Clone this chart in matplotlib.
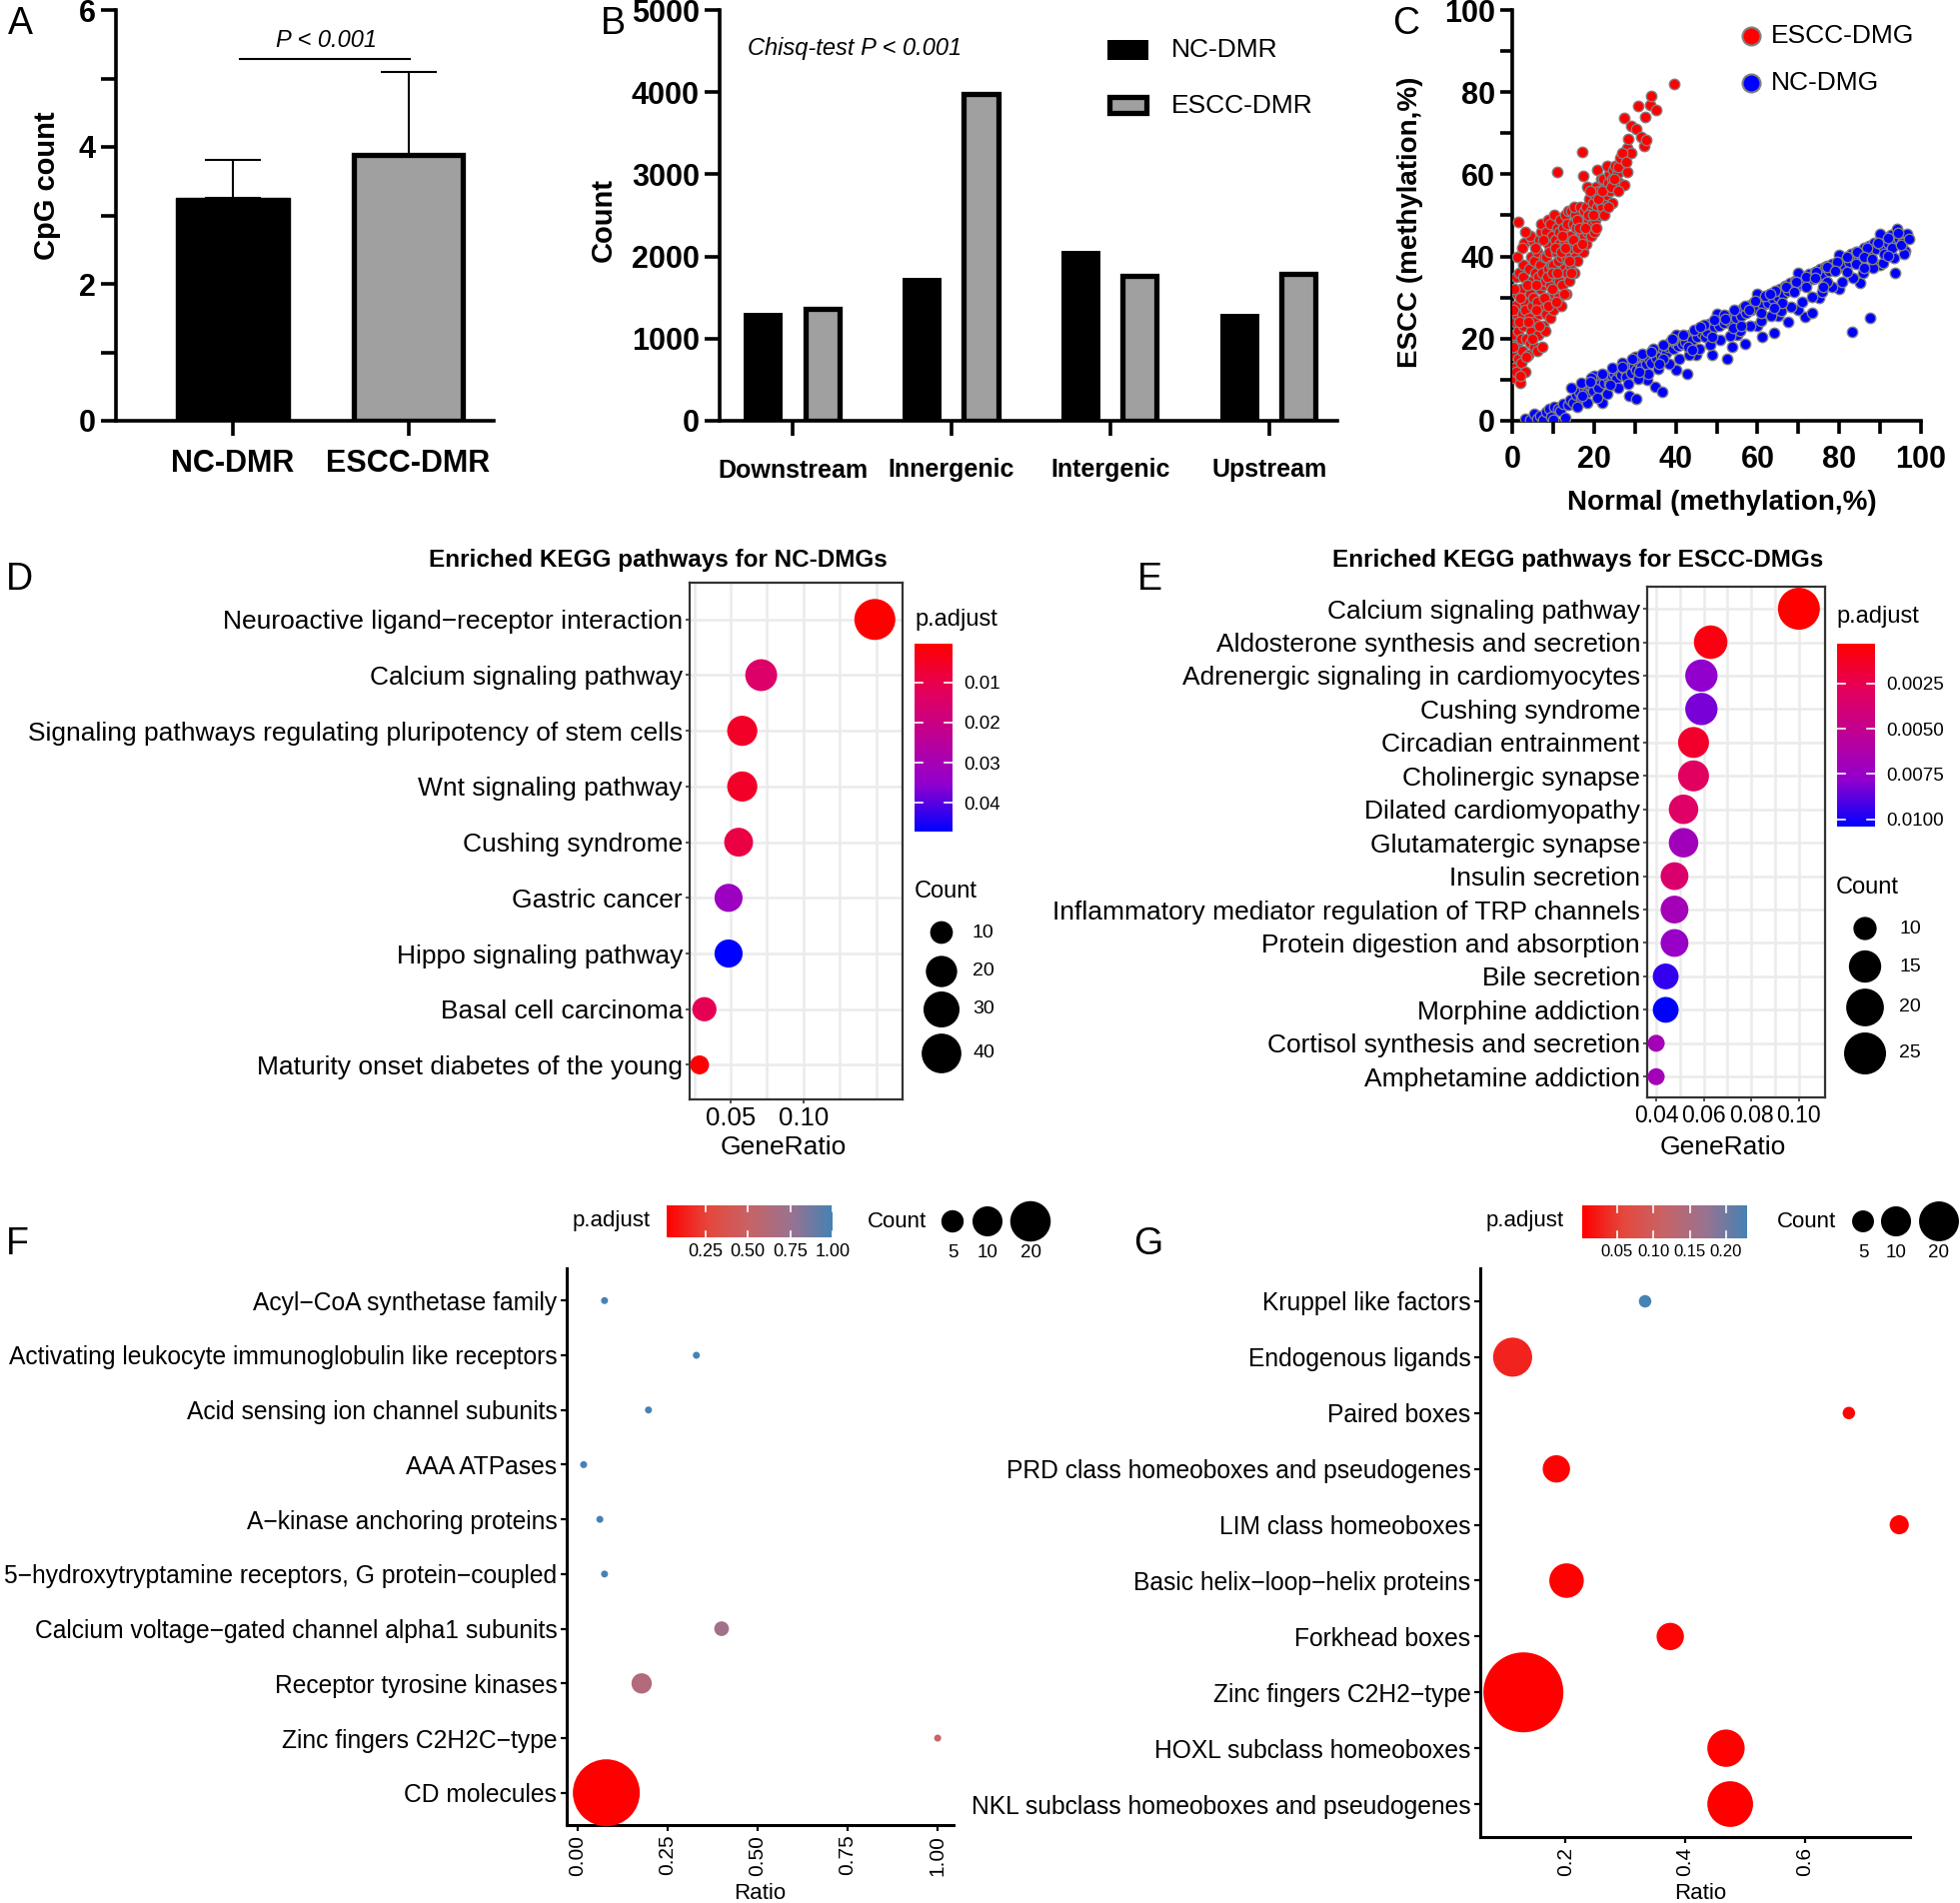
import numpy as np
import matplotlib
matplotlib.use("Agg")
import matplotlib.pyplot as plt
from matplotlib.colors import LinearSegmentedColormap
from matplotlib.patches import Rectangle

plt.rcParams['font.family'] = ['Liberation Sans', 'DejaVu Sans']

# ---- panel A: CpG count per DMR ----
cpg_groups = ['NC-DMR', 'ESCC-DMR']
cpg_mean = [3.25, 3.89]
cpg_sd = [0.56, 1.21]

# ---- panel B: genomic location of DMRs ----
locations = ['Downstream', 'Innergenic', 'Intergenic', 'Upstream']
nc_dmr = [1317, 1736, 2069, 1298]
escc_dmr = [1365, 3978, 1763, 1783]

# ---- panel C: methylation normal vs ESCC (normal %, escc %) ----
escc_dmg = np.array([
    (0.3,10.5),(0.5,13),(0.4,16),(0.6,19),(0.5,21),(0.8,24),(1.0,12),(1.2,18),(1.1,26),(0.7,28),(1.4,22),(1.3,31),(0.9,35),(1.5,15),(1.6,36),(1.5,48.5),
    (2.0,9.2),(2.2,14),(2.5,17),(2.1,20),(2.8,23),(2.4,26),(2.9,29),(2.3,32),(2.7,35),(3.0,43.4),(2.6,38),(3.2,12),(3.4,20),(3.1,27),
    (4.0,16),(4.3,19),(4.6,22),(4.1,25),(4.8,28),(4.4,31),(4.9,34),(4.2,37),(4.7,40),(5.0,44),(4.5,45),(5.3,18),(5.5,24),(5.2,30),(5.6,36),(5.4,39),
    (6.0,17),(6.3,21),(6.6,26),(6.1,29),(6.8,32),(6.4,35),(6.9,38),(6.2,41),(6.7,44),(7.0,46),(7.3,18),(7.5,23),(7.2,27),(7.6,33),(7.4,36),(7.8,40),(7.1,48),
    (8.0,22),(8.3,26),(8.6,30),(8.1,34),(8.8,37),(8.4,40),(8.9,43),(8.2,46),(8.7,49),(9.2,25),(9.5,29),(9.3,33),(9.6,38),(9.1,41),(9.8,45),(9.4,48),
    (10.0,27),(10.3,31),(10.6,35),(10.1,38),(10.8,41),(10.4,44),(10.9,47),(10.2,50),(11.3,30),(11.5,34),(11.2,39),(11.6,43),(11.4,46),(11.8,49),(11.0,60.6),
    (12.0,28),(12.3,33),(12.6,37),(12.1,40),(12.8,44),(12.4,47),(12.9,50),(13.3,31),(13.5,36),(13.2,40),(13.6,45),(13.4,48),(13.8,51),
    (14.0,34),(14.3,38),(14.6,42),(14.1,45),(14.8,48),(14.4,51),(15.2,36),(15.5,40),(15.3,44),(15.6,47),(15.4,50),(15.1,52),
    (16.0,39),(16.4,43),(16.8,46),(16.2,49),(16.6,52),(17.0,65.5),(17.3,41),(17.5,45),(17.2,48),(17.7,51),(17.4,59.5),(18.3,57),
    (18.0,43),(18.4,46),(18.7,49),(18.2,52),(18.9,54),(19.2,45),(19.5,48),(19.3,51),(19.7,53),
    (20.0,46),(20.4,49),(20.8,52),(20.2,55),(20.6,57),(20.9,61),(21.3,50),(21.6,53),(21.2,56),(21.8,59),
    (22.0,52),(22.4,54),(22.8,57),(22.2,59),(23.1,55),(23.4,58),(23.7,60),(23.2,62),
    (24.0,56),(24.4,59),(24.8,61),(24.5,53),(25.2,57),(25.6,60),(25.3,62),
    (26.0,61.9),(26.5,63.9),(26.2,58),(27.3,57.4),(27.5,73.8),(28.1,60.7),(28.2,66.4),(28.3,68.6),(29.2,65.2),(29.2,71.7),(26.8,65.3),(27.8,63),
    (30.4,71.1),(30.8,76.6),(31.5,69.2),(32.2,67),(32.4,73.9),(32.8,68.4),(33.8,76.9),(34.0,79),(35.2,75.6),(39.5,82),
    (1.8,24),(2.0,30),(3.6,33),(3.8,24),(3.5,15.5),(4.9,20),(5.8,27),(5.9,33),(5.7,42),(6.5,23),(7.9,30),(7.7,44),
    (8.5,35),(8.9,28),(9.9,32),(9.7,36),(10.7,29),(10.5,42),(11.1,36),(11.9,41),(12.2,45),(12.7,31),(13.0,42),
    (13.9,39),(14.5,36),(14.9,44),(15.8,42),(15.9,49),(16.5,47),(17.1,43),(17.9,47),(18.6,50),(19.0,56),(19.9,50),
    (20.5,47),(21.0,54),(21.9,56),(22.6,50),(23.5,52),(24.2,57),(25.0,59),(25.8,56),(2.5,42),(3.3,46),(1.2,40),
    (0.6,32),(0.3,27),(1.9,11),(0.2,18)])

nc_dmg = np.array([
    (3.3,0.4),(4.5,0.2),(5.3,1.6),(6.0,0.5),(6.8,1.2),(7.5,0.3),(8.2,2.2),(9.0,2.9),(9.6,1.0),(10.3,3.5),(10.0,0.2),
    (11.2,3.0),(11.8,2.5),(12.5,4.2),(13.0,0.8),(13.6,3.8),(14.3,5.1),(15.0,4.4),(15.6,6.3),(16.3,7.0),(16.9,5.6),(17.5,7.8),(18.2,6.9),(18.8,8.4),(19.2,8.6),(19.8,7.4),(20.4,9.2),
    (21.0,8.0),(21.5,9.9),(22.0,4.5),(22.6,9.3),(23.2,10.6),(23.8,9.0),(24.4,11.0),(24.9,11.5),(25.5,10.2),(26.1,12.0),(26.7,11.2),(27.3,12.6),(27.9,10.8),(28.5,6.1),(28.6,13.0),(29.2,11.7),(29.8,13.4),(30.2,5.3),(30.4,12.3),
    (31.0,14.0),(31.6,13.1),(32.2,15.5),(32.8,13.8),(33.4,15.0),(34.0,14.1),(34.6,16.2),(35.0,8.2),(35.2,15.4),(35.8,17.0),(36.4,15.8),(36.7,7.0),(37.0,17.6),(37.6,16.5),(38.2,18.1),(38.7,19.2),(39.3,17.4),(39.9,19.0),(40.5,18.2),
    (41.0,20.0),(41.6,18.8),(42.2,20.6),(42.4,19.2),(42.8,11.5),(43.4,21.0),(44.0,19.7),(44.6,21.8),(45.2,20.4),(45.8,22.2),(46.4,21.1),(47.0,23.0),(47.3,20.5),(47.6,21.7),(48.2,23.6),(48.9,16.0),(49.4,22.9),(50.0,24.3),(50.6,23.2),
    (51.2,25.0),(51.8,23.8),(52.4,25.6),(52.6,15.1),(53.0,24.4),(53.8,18.0),(54.2,26.0),(54.8,25.1),(55.4,26.8),(56.0,25.6),(56.6,27.4),(57.0,18.8),(57.2,26.2),(57.8,28.0),(58.4,26.9),(59.0,28.6),(59.6,27.5),(60.2,29.2),
    (61.1,20.5),(61.4,28.3),(62.0,30.0),(62.6,28.8),(63.2,31.0),(63.8,29.6),(64.0,21.3),(64.4,31.5),(65.0,30.2),(65.6,32.2),(66.2,31.0),(66.8,32.8),(67.4,31.6),(67.6,24.1),(68.0,33.5),(68.6,32.2),(69.2,34.0),(69.8,32.9),(70.1,34.8),
    (70.6,33.4),(71.2,35.0),(71.7,25.4),(72.0,34.0),(72.6,35.8),(73.3,26.2),(73.6,34.6),(74.2,36.3),(74.8,35.2),(75.4,37.0),(76.0,35.8),(76.6,37.5),(77.0,37.6),(77.6,36.4),(78.2,38.2),(78.8,37.0),(79.5,38.5),(80.0,37.4),
    (80.6,39.2),(81.2,38.0),(81.8,40.0),(82.4,38.6),(83.1,21.7),(83.0,40.6),(83.6,39.3),(84.2,41.2),(84.8,39.8),(85.6,40.1),(86.0,42.0),(86.6,40.6),(87.2,42.6),(87.6,25.0),(87.8,41.2),(88.4,43.2),(89.0,41.8),(89.6,43.4),
    (90.2,44.0),(90.8,42.6),(91.4,44.6),(92.0,43.2),(92.6,45.2),(93.2,43.8),(93.7,36.0),(94.1,46.6),(94.6,44.4),(95.4,43.4),(96.2,41.3),(96.6,45.4),
    (33,10),(40,12.5),(45,16),(55,21),(60,23),(65,25.5),(70,27),(75,30),(80,32),(85,33.5),(90,38),
    (20,11),(30,15.5),(40,21),(50,26),(60,31),(70,36),(80,40.5),(90,45.5),
    (15.8,3.5),(14.4,8),(18.3,4.5),(16.9,9.3),(20.8,5.6),(19.4,10.5),(23.3,6.5),(21.9,11.4),(25.8,8),(24.4,12.8),
    (28.3,9),(26.9,14),(30.8,10.2),(29.4,15),(33.3,11.5),(31.9,16.3),(35.8,12.6),(34.4,17.5),(38.3,13.8),(36.9,18.6),
    (40.8,15),(39.4,19.8),(43.3,16),(41.9,21),(45.8,17.4),(44.4,22.2),(48.3,18.5),(46.9,23.3),(50.8,19.6),(49.4,24.5),
    (53.3,20.8),(51.9,25.7),(55.8,22),(54.4,26.9),(58.3,23.1),(56.9,28),(60.8,24.3),(59.4,29.2),(63.3,25.5),(61.9,30.4),
    (65.8,26.7),(64.4,31.6),(68.3,27.8),(66.9,32.7),(70.8,29),(69.4,33.9),(73.3,30.2),(71.9,35.1),(75.8,31.4),(74.4,36.3),
    (78.3,32.5),(76.9,37.4),(80.8,33.7),(79.4,38.6),(83.3,34.9),(81.9,39.8),(85.8,36),(84.4,41),(88.3,37.2),(86.9,42.1),
    (90.8,38.4),(89.4,43.3),(93.3,39.6),(91.9,44.5),(95.8,40.7),(94.4,45.7),
    (17,6.2),(19,9.4),(24,8.7),(27,13.2),(31,12),(34,16.8),(37,15),(39,20),(43,18),(46,22.8),(49,20.5),(52,24.8),
    (54,22.7),(58,27),(61,26.2),(63,30.8),(66,28.6),(69,31.5),(72,32.5),(74,34.9),(77,33.8),(79,36.4),(82,36.2),
    (84,38.1),(86,39.9),(88,39.5),(91,40.6),(93,42.1),(95,42.8),(97,44.2),(36,13.9),(44,17.3),(56,23.2),(64,27.4),
    (76,32.6),(86,37.3),(92,40.1)])

# ---- panel D: KEGG for NC-DMGs ----
kegg_nc_terms = ['Neuroactive ligand\u2212receptor interaction', 'Calcium signaling pathway',
                 'Signaling pathways regulating pluripotency of stem cells', 'Wnt signaling pathway',
                 'Cushing syndrome', 'Gastric cancer', 'Hippo signaling pathway',
                 'Basal cell carcinoma', 'Maturity onset diabetes of the young']
kegg_nc_ratio = [0.149, 0.071, 0.058, 0.058, 0.0555, 0.0486, 0.0486, 0.032, 0.0287]
kegg_nc_count = [44, 21, 18, 18, 16, 15, 15, 11, 9]
kegg_nc_padj = [0.0003, 0.0145, 0.0055, 0.0055, 0.009, 0.0325, 0.0472, 0.011, 0.001]

# ---- panel E: KEGG for ESCC-DMGs ----
kegg_escc_terms = ['Calcium signaling pathway', 'Aldosterone synthesis and secretion',
                   'Adrenergic signaling in cardiomyocytes', 'Cushing syndrome', 'Circadian entrainment',
                   'Cholinergic synapse', 'Dilated cardiomyopathy', 'Glutamatergic synapse',
                   'Insulin secretion', 'Inflammatory mediator regulation of TRP channels',
                   'Protein digestion and absorption', 'Bile secretion', 'Morphine addiction',
                   'Cortisol synthesis and secretion', 'Amphetamine addiction']
kegg_escc_ratio = [0.100, 0.0629, 0.059, 0.059, 0.0557, 0.0557, 0.0515, 0.0515, 0.0477, 0.0477,
                   0.0477, 0.044, 0.044, 0.040, 0.040]
kegg_escc_count = [25, 16, 15, 15, 14, 14, 13, 13, 12, 12, 12, 11, 11, 9, 9]
kegg_escc_padj = [0.0003, 0.0008, 0.0078, 0.0083, 0.0015, 0.0030, 0.0032, 0.0070, 0.0035, 0.0068,
                  0.0075, 0.0095, 0.0104, 0.0068, 0.0068]

# ---- panel F: gene families, NC-DMGs ----
fam_nc_terms = ['Acyl\u2212CoA synthetase family', 'Activating leukocyte immunoglobulin like receptors',
                'Acid sensing ion channel subunits', 'AAA ATPases', 'A\u2212kinase anchoring proteins',
                '5\u2212hydroxytryptamine receptors, G protein\u2212coupled',
                'Calcium voltage\u2212gated channel alpha1 subunits', 'Receptor tyrosine kinases',
                'Zinc fingers C2H2C\u2212type', 'CD molecules']
fam_nc_ratio = [0.075, 0.33, 0.197, 0.017, 0.062, 0.075, 0.40, 0.178, 1.0, 0.08]
fam_nc_count = [1, 1, 1, 1, 1, 1, 2, 4, 1, 62]
fam_nc_padj = [1.0, 1.0, 1.0, 1.0, 1.0, 1.0, 0.71, 0.63, 0.51, 0.02]

# ---- panel G: gene families, ESCC-DMGs ----
fam_escc_terms = ['Kruppel like factors', 'Endogenous ligands', 'Paired boxes',
                  'PRD class homeoboxes and pseudogenes', 'LIM class homeoboxes',
                  'Basic helix\u2212loop\u2212helix proteins', 'Forkhead boxes', 'Zinc fingers C2H2\u2212type',
                  'HOXL subclass homeoboxes', 'NKL subclass homeoboxes and pseudogenes']
fam_escc_ratio = [0.333, 0.112, 0.673, 0.185, 0.757, 0.202, 0.375, 0.13, 0.468, 0.475]
fam_escc_count = [3, 19, 3, 8, 4, 14, 8, 106, 17, 28]
fam_escc_padj = [0.229, 0.03, 0.008, 0.005, 0.004, 0.003, 0.006, 0.002, 0.003, 0.002]


W, H = 1961, 1904
fig = plt.figure(figsize=(W / 100, H / 100), dpi=100)


def px_axes(l, t, r, b):
    # axes box given in pixel coords, top-left origin
    return fig.add_axes([l / W, 1 - b / H, (r - l) / W, (b - t) / H])


def dot_diam(c, lo, hi, r0, r1):
    # ggplot style area scale, diameter in px
    c = np.asarray(c, dtype=float)
    return r0 + (r1 - r0) * np.sqrt((c - lo) / (hi - lo))


def px2s(d):
    return (np.asarray(d) * 0.72) ** 2


cmap_rb = LinearSegmentedColormap.from_list('rb', ['#FF0000', '#E4005C', '#BE0096', '#9100CF', '#0000FF'])
cmap_rs = LinearSegmentedColormap.from_list('rs', ['#FF0000', '#E5483D', '#C76467', '#9A7390', '#4682B4'])


def prism_axes(ax):
    for s in ['top', 'right']:
        ax.spines[s].set_visible(False)
    for s in ['left', 'bottom']:
        ax.spines[s].set_linewidth(2.6)
    ax.tick_params(which='both', direction='out', width=2.6, length=11, labelsize=22)


# ---------------- A ----------------
axA = px_axes(116, 10, 494, 421)
xA = np.arange(len(cpg_groups))
axA.bar(xA[0], cpg_mean[0], width=0.65, color='black', edgecolor='black', linewidth=1, zorder=3)
axA.bar(xA[1], cpg_mean[1], width=0.62, color='#A0A0A0', edgecolor='black', linewidth=3.8, zorder=3)
axA.errorbar(xA, cpg_mean, yerr=[np.zeros(len(xA)), cpg_sd], fmt='none', ecolor='black',
             elinewidth=1.5, capsize=20, capthick=1.5, zorder=2)
axA.set_xlim(-0.667, 1.487)
axA.set_ylim(0, 6)
prism_axes(axA)
axA.set_yticks([0, 2, 4, 6])
axA.set_yticklabels(['0', '2', '4', '6'], fontweight='bold')
axA.set_yticks([1, 3, 5], minor=True)
axA.set_xticks(xA)
axA.set_xticklabels(cpg_groups, fontweight='bold')
axA.tick_params(axis='x', pad=9)
axA.plot([0.04, 1.01], [5.28, 5.28], color='black', lw=1.5, clip_on=False)
axA.text(0.53, 5.38, 'P < 0.001', style='italic', fontsize=17, ha='center', va='bottom')

# ---------------- B ----------------
axB = px_axes(720, 10, 1338, 421)
xB = np.arange(len(locations))
axB.bar(xB - 0.186, nc_dmr, width=0.245, color='black', zorder=3)
axB.bar(xB + 0.186, escc_dmr, width=0.215, color='#A0A0A0', edgecolor='black', linewidth=3.8, zorder=3)
axB.set_xlim(-0.46, 3.43)
axB.set_ylim(0, 5000)
prism_axes(axB)
axB.set_yticks(np.arange(0, 5001, 1000))
axB.set_yticklabels([str(v) for v in range(0, 5001, 1000)], fontweight='bold')
axB.set_xticks(xB)
axB.set_xticklabels(locations, fontweight='bold', fontsize=18)
axB.tick_params(axis='x', pad=16)

# ---------------- C ----------------
axC = px_axes(1513, 10, 1922, 421)
axC.scatter(escc_dmg[:, 0], escc_dmg[:, 1], s=px2s(10.5), c='#FF0000', edgecolors='#808080', linewidths=1.0, zorder=3)
axC.scatter(nc_dmg[:, 0], nc_dmg[:, 1], s=px2s(10.5), c='#0000FF', edgecolors='#808080', linewidths=1.0, zorder=3)
axC.set_xlim(0, 100)
axC.set_ylim(0, 100)
prism_axes(axC)
axC.set_xticks(np.arange(0, 101, 20))
axC.set_xticklabels([str(v) for v in range(0, 101, 20)], fontweight='bold')
axC.set_xticks(np.arange(10, 100, 20), minor=True)
axC.set_yticks(np.arange(0, 101, 20))
axC.set_yticklabels([str(v) for v in range(0, 101, 20)], fontweight='bold')
axC.set_yticks(np.arange(10, 100, 20), minor=True)
axC.tick_params(which='both', length=9)
axC.tick_params(axis='x', pad=8)


# ---------------- D / E : KEGG dot plots ----------------
def kegg_panel(box, terms, ratio, count, padj, xlim, major, minor, major_lbl, r0, r1, tick_size):
    ax = px_axes(*box)
    n = len(terms)
    y = np.arange(n, 0, -1)
    d = dot_diam(count, min(count), max(count), r0, r1)
    ax.scatter(ratio, y, s=px2s(d), c=padj, cmap=cmap_rb, vmin=min(padj), vmax=max(padj),
               edgecolors='none', zorder=3)
    ax.set_xlim(*xlim)
    ax.set_ylim(0.38, n + 0.66)
    ax.set_yticks(y)
    ax.set_yticklabels(terms, fontsize=19)
    ax.set_xticks(major)
    ax.set_xticklabels(major_lbl, fontsize=tick_size)
    ax.set_xticks(minor, minor=True)
    ax.grid(True, which='both', color='#EBEBEB', lw=1.8, zorder=0)
    ax.set_axisbelow(True)
    for s in ax.spines.values():
        s.set_color('#333333')
        s.set_linewidth(1.6)
    ax.tick_params(which='major', length=3, width=1.2, color='#333333', pad=2)
    ax.tick_params(which='minor', length=0)
    return ax


axD = kegg_panel((690, 583, 903, 1100), kegg_nc_terms, kegg_nc_ratio, kegg_nc_count, kegg_nc_padj,
                 (0.0219, 0.168), [0.05, 0.10], [0.025, 0.075, 0.125, 0.15], ['0.05', '0.10'], 19, 41, 18.5)
axE = kegg_panel((1648, 587, 1826, 1098), kegg_escc_terms, kegg_escc_ratio, kegg_escc_count, kegg_escc_padj,
                 (0.0362, 0.111), [0.04, 0.06, 0.08, 0.10], [0.05, 0.07, 0.09],
                 ['0.04', '0.06', '0.08', '0.10'], 17, 42, 16.5)


def vbar(box, vmin, vmax, ticks, labels, cmap):
    cax = px_axes(*box)
    grad = np.linspace(vmin, vmax, 256)
    cax.imshow(grad[:, None], aspect='auto', cmap=cmap, extent=[0, 1, vmax, vmin])
    for t in ticks:
        cax.plot([0, 0.2], [t, t], color='white', lw=1.2)
        cax.plot([0.8, 1], [t, t], color='white', lw=1.2)
    cax.set_xticks([])
    cax.yaxis.tick_right()
    cax.set_yticks(ticks)
    cax.set_yticklabels(labels, fontsize=13.5)
    cax.tick_params(length=0, pad=8)
    for s in cax.spines.values():
        s.set_visible(False)
    return cax


vbar((915, 644, 953, 832), min(kegg_nc_padj), max(kegg_nc_padj), [0.01, 0.02, 0.03, 0.04],
     ['0.01', '0.02', '0.03', '0.04'], cmap_rb)
vbar((1838, 644, 1876, 827), min(kegg_escc_padj), max(kegg_escc_padj), [0.0025, 0.005, 0.0075, 0.01],
     ['0.0025', '0.0050', '0.0075', '0.0100'], cmap_rb)


# ---------------- F / G : gene family dot plots ----------------
def fam_panel(box, terms, ratio, count, padj, xlim, ticks, tick_lbl, r0, r1):
    ax = px_axes(*box)
    n = len(terms)
    y = np.arange(n, 0, -1)
    d = dot_diam(count, min(count), max(count), r0, r1)
    ax.scatter(ratio, y, s=px2s(d), c=padj, cmap=cmap_rs, vmin=min(padj), vmax=max(padj),
               edgecolors='none', zorder=3, clip_on=False)
    ax.set_xlim(*xlim)
    ax.set_ylim(0.41, n + 0.59)
    ax.set_yticks(y)
    ax.set_yticklabels(terms, fontsize=17.7)
    ax.set_xticks(ticks)
    ax.set_xticklabels(tick_lbl, fontsize=15, rotation=90)
    for s in ['top', 'right']:
        ax.spines[s].set_visible(False)
    for s in ['left', 'bottom']:
        ax.spines[s].set_linewidth(2.2)
    ax.tick_params(length=4, width=1.6, pad=3)
    return ax


axF = fam_panel((567, 1269, 954, 1826), fam_nc_terms, fam_nc_ratio, fam_nc_count, fam_nc_padj,
                (-0.03, 1.044), [0, 0.25, 0.5, 0.75, 1.0], ['0.00', '0.25', '0.50', '0.75', '1.00'], 7, 67)
axG = fam_panel((1481, 1269, 1911, 1838), fam_escc_terms, fam_escc_ratio, fam_escc_count, fam_escc_padj,
                (0.058, 0.775), [0.2, 0.4, 0.6], ['0.2', '0.4', '0.6'], 12.5, 80)


def hbar(box, vmin, vmax, ticks, labels, fs):
    cax = px_axes(*box)
    grad = np.linspace(vmin, vmax, 256)
    cax.imshow(grad[None, :], aspect='auto', cmap=cmap_rs, extent=[vmin, vmax, 0, 1])
    for t in ticks:
        cax.plot([t, t], [0, 0.2], color='white', lw=1.2)
        cax.plot([t, t], [0.8, 1], color='white', lw=1.2)
    cax.set_yticks([])
    cax.set_xticks(ticks)
    cax.set_xticklabels(labels, fontsize=fs)
    cax.tick_params(length=0, pad=4)
    cax.set_xlim(vmin, vmax)
    cax.set_ylim(0, 1)
    for s in cax.spines.values():
        s.set_visible(False)


hbar((667, 1206, 833, 1238), min(fam_nc_padj), max(fam_nc_padj), [0.25, 0.5, 0.75, 1.0],
     ['0.25', '0.50', '0.75', '1.00'], 13)
hbar((1583, 1206, 1748, 1239), min(fam_escc_padj), max(fam_escc_padj), [0.05, 0.10, 0.15, 0.20],
     ['0.05', '0.10', '0.15', '0.20'], 12)

# ---------------- overlay: free text, legend keys ----------------
ov = fig.add_axes([0, 0, 1, 1])
ov.set_xlim(0, W)
ov.set_ylim(H, 0)
ov.axis('off')

for letter, (lx, ly) in zip('ABCDEFG', [(20, 24), (613, 24), (1407, 24), (19, 580), (1150, 580),
                                       (17, 1245), (1149, 1245)]):
    ov.text(lx, ly, letter, fontsize=27, ha='center', va='center')

# axis titles
ov.text(47, 186, 'CpG count', rotation=90, fontsize=21, fontweight='bold', ha='center', va='center')
ov.text(604, 220, 'Count', rotation=90, fontsize=21, fontweight='bold', ha='center', va='center')
ov.text(1411, 222, 'ESCC (methylation,%)', rotation=90, fontsize=20, fontweight='bold', ha='center', va='center')
ov.text(1723, 503, 'Normal (methylation,%)', fontsize=20, fontweight='bold', ha='center', va='center')

# B legend + test
ov.text(748, 48, 'Chisq-test P < 0.001', style='italic', fontsize=17, va='center')
ov.add_patch(Rectangle((1108, 40), 41, 20, fc='black', ec='none'))
ov.add_patch(Rectangle((1110, 97), 37, 16, fc='#A0A0A0', ec='black', lw=3.8))
ov.text(1172, 50, 'NC-DMR', fontsize=19, va='center')
ov.text(1172, 106, 'ESCC-DMR', fontsize=19, va='center')

# C legend
ov.scatter([1752], [36], s=px2s(18), c='#FF0000', edgecolors='#808080', linewidths=1.5)
ov.scatter([1752], [83], s=px2s(18), c='#0000FF', edgecolors='#808080', linewidths=1.5)
ov.text(1772, 36, 'ESCC-DMG', fontsize=19, va='center')
ov.text(1772, 83, 'NC-DMG', fontsize=19, va='center')

# D / E titles and legends
ov.text(658, 561, 'Enriched KEGG pathways for NC-DMGs', fontsize=17.5, fontweight='bold', ha='center', va='center')
ov.text(1579, 561, 'Enriched KEGG pathways for ESCC-DMGs', fontsize=17.5, fontweight='bold', ha='center', va='center')
ov.text(784, 1148, 'GeneRatio', fontsize=19, ha='center', va='center')
ov.text(1724, 1148, 'GeneRatio', fontsize=19, ha='center', va='center')
ov.text(915, 620, 'p.adjust', fontsize=17, va='center')
ov.text(915, 892, 'Count', fontsize=17, va='center')
ov.text(1837, 617, 'p.adjust', fontsize=17, va='center')
ov.text(1837, 888, 'Count', fontsize=17, va='center')

d_breaks = [10, 20, 30, 40]
dd = dot_diam(d_breaks, min(kegg_nc_count), max(kegg_nc_count), 19, 41)
for b, yy, di in zip(d_breaks, [933, 972, 1010, 1054], dd):
    ov.scatter([942], [yy], s=px2s(di), c='black', edgecolors='none')
    ov.text(973, yy, str(b), fontsize=14, va='center')

e_breaks = [10, 15, 20, 25]
de = dot_diam(e_breaks, min(kegg_escc_count), max(kegg_escc_count), 17, 42)
for b, yy, di in zip(e_breaks, [929, 967, 1008, 1054], de):
    ov.scatter([1866], [yy], s=px2s(di), c='black', edgecolors='none')
    ov.text(1900, yy, str(b), fontsize=14, va='center')

# F / G legends
ov.text(573, 1222, 'p.adjust', fontsize=16, va='center')
ov.text(1487, 1222, 'p.adjust', fontsize=16, va='center')
ov.text(868, 1222, 'Count', fontsize=16, va='center')
ov.text(1778, 1222, 'Count', fontsize=16, va='center')
fg_breaks = [5, 10, 20]
df_ = dot_diam(fg_breaks, min(fam_nc_count), max(fam_nc_count), 7, 67)
for b, xx, di in zip(fg_breaks, [953, 988, 1031], df_):
    ov.scatter([xx], [1222], s=px2s(di), c='black', edgecolors='none')
    ov.text(xx, 1254, str(b), fontsize=13.5, ha='center', va='center')
dg = dot_diam(fg_breaks, min(fam_escc_count), max(fam_escc_count), 12.5, 80)
for b, xx, di in zip(fg_breaks, [1864, 1897, 1940], dg):
    ov.scatter([xx], [1222], s=px2s(di), c='black', edgecolors='none')
    ov.text(xx, 1254, str(b), fontsize=13.5, ha='center', va='center')
ov.text(760, 1895, 'Ratio', fontsize=16, ha='center', va='center')
ov.text(1701, 1895, 'Ratio', fontsize=16, ha='center', va='center')

fig.savefig('out.png', dpi=100)
